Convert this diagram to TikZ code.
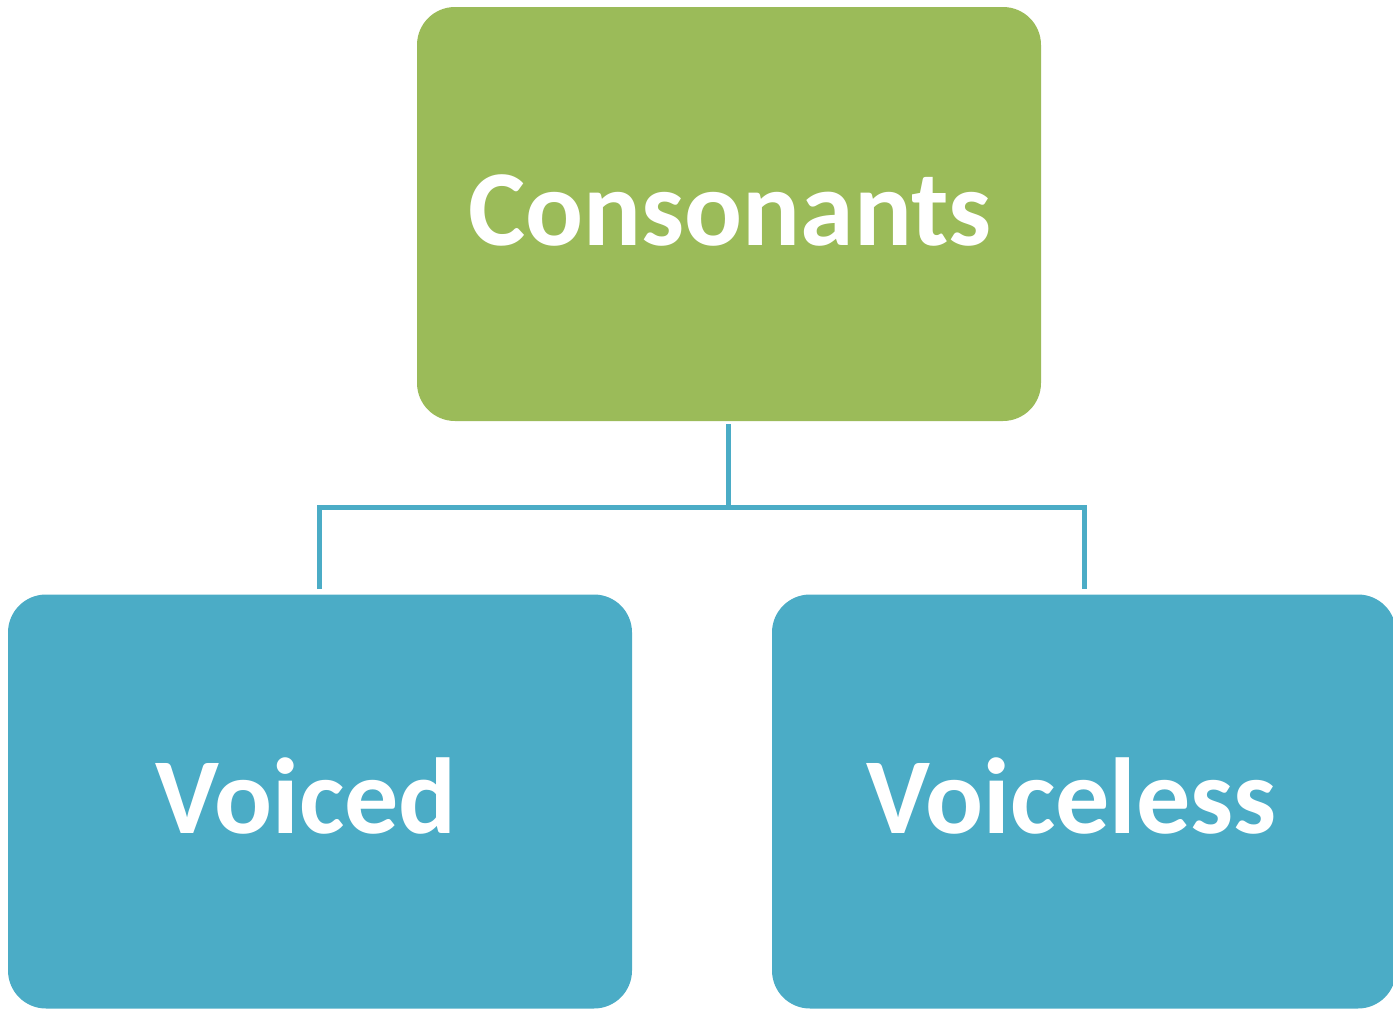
\documentclass[tikz,border=0pt]{standalone}
\usepackage{fontspec}
\setmainfont{Carlito}
\definecolor{boxgreen}{HTML}{9BBB59}
\definecolor{boxblue}{HTML}{4BACC6}
\begin{document}
\begin{tikzpicture}[x=1pt,y=-1pt,
  box/.style={rectangle, rounded corners=38pt, minimum width=624pt, minimum height=414pt, inner sep=0pt},
  lbl/.style={text=white, font=\fontsize{108}{108}\selectfont\bfseries, anchor=base, inner sep=0pt},
  conn/.style={draw=boxblue, line width=5pt, line join=miter}]
\useasboundingbox (0,0) rectangle (1393,1009);
\node[box, fill=boxgreen] (top) at (729,214) {};
\node[box, fill=boxblue] (voiced) at (320,801.5) {};
\node[box, fill=boxblue] (voiceless) at (1084,801.5) {};
\node[lbl] (tconsonants) at (730,245) {Consonants};
\node[lbl] (tvoiced) at (306,833) {Voiced};
\node[lbl] (tvoiceless) at (1072,833) {Voiceless};
\coordinate (st) at (728.5,424);
\coordinate (jt) at (728.5,507.5);
\coordinate (jl) at (319,507.5);
\coordinate (jr) at (1084,507.5);
\coordinate (el) at (319,589);
\coordinate (er) at (1084,589);
\draw[conn] (st) -- (jt);
\draw[conn] (el) -- (jl) -- (jr) -- (er);
\end{tikzpicture}
\end{document}
